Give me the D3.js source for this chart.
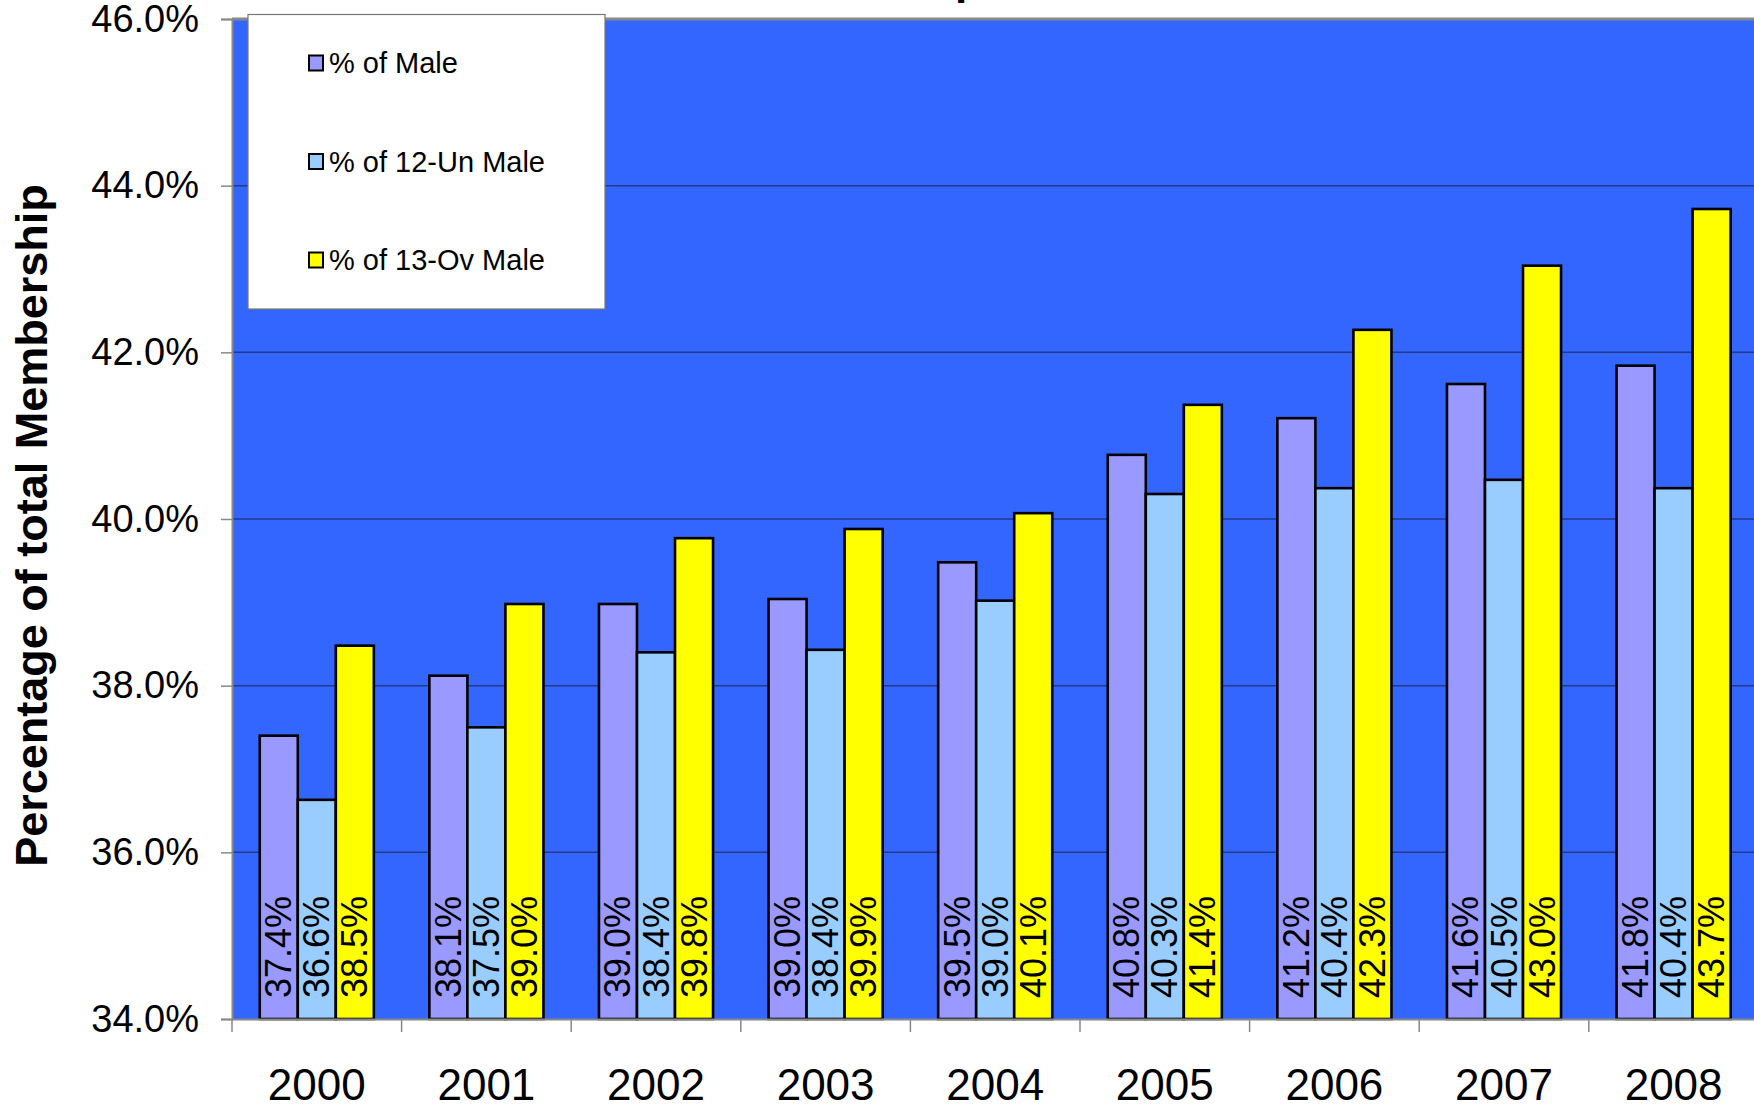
<!DOCTYPE html>
<html>
<head>
<meta charset="utf-8">
<script src="https://cdn.jsdelivr.net/npm/d3@7"></script>
<style>
  html, body { margin: 0; padding: 0; background: #fff; }
  svg { display: block; }
  text { font-family: "Liberation Sans", Arial, sans-serif; }
</style>
</head>
<body>
<svg id="chart" width="1754" height="1110"></svg>
<script>
const years = ["2000","2001","2002","2003","2004","2005","2006","2007","2008"];
const seriesNames = ["% of Male", "% of 12-Un Male", "% of 13-Ov Male"];
const pctMale    = [37.40, 38.12, 38.98, 39.04, 39.48, 40.77, 41.21, 41.62, 41.84];
const pct12Un    = [36.63, 37.50, 38.40, 38.43, 39.02, 40.30, 40.37, 40.47, 40.37];
const pct13Ov    = [38.48, 38.98, 39.77, 39.88, 40.07, 41.37, 42.27, 43.04, 43.72];
const yTicks     = [34, 36, 38, 40, 42, 44, 46];
const colors     = ["#9999FF", "#99CCFF", "#FFFF00"];
const chartTitle = "Male Membership";
const yTitle     = "Percentage of total Membership";

const seriesValues = [pctMale, pct12Un, pct13Ov];
const rows = years.map((yr, i) => ({ year: yr, values: seriesValues.map((s, k) => ({ key: seriesNames[k], k, v: s[i] })) }));

const svg = d3.select("#chart");
const pLeft = 232, pRight = 1758.4, pTop = 19, pBottom = 1019;

const x0 = d3.scaleBand().domain(years).range([pLeft, pRight]).paddingInner(0).paddingOuter(0);
const x1 = d3.scaleBand().domain(seriesNames).range([0, x0.bandwidth()]).paddingInner(0).paddingOuter(0.73);
const y = d3.scaleLinear().domain([34, 46]).range([pBottom, pTop]);

// plot background
svg.append("rect").attr("x", pLeft).attr("y", pTop).attr("width", pRight - pLeft).attr("height", pBottom - pTop).attr("fill", "#3366FF");

// gridlines
svg.append("g").selectAll("line").data(yTicks.filter(t => t > 34 && t < 46)).join("line")
  .attr("x1", pLeft).attr("x2", pRight).attr("y1", d => y(d)).attr("y2", d => y(d))
  .attr("stroke", "#24398a").attr("stroke-width", 1.5);

// top border
svg.append("line").attr("x1", pLeft).attr("x2", pRight).attr("y1", pTop).attr("y2", pTop).attr("stroke", "#888").attr("stroke-width", 3);

// title (mostly above the visible area, as in the reference)
svg.append("text").attr("x", 982).attr("y", -6).attr("text-anchor", "end")
  .attr("font-size", 44).attr("font-weight", "bold").attr("fill", "#000").text(chartTitle);

// bars
const groups = svg.append("g").selectAll("g").data(rows).join("g")
  .attr("transform", d => `translate(${x0(d.year)},0)`);
groups.selectAll("rect").data(d => d.values).join("rect")
  .attr("x", d => x1(d.key)).attr("width", x1.bandwidth())
  .attr("y", d => y(d.v)).attr("height", d => y(34) - y(d.v))
  .attr("fill", d => colors[d.k]).attr("stroke", "#000").attr("stroke-width", 2.6);
groups.selectAll("text").data(d => d.values).join("text")
  .attr("transform", d => `translate(${x1(d.key) + x1.bandwidth() / 2},${y(34) - 21}) rotate(-90)`)
  .attr("text-anchor", "start").attr("dominant-baseline", "central")
  .attr("font-size", 36).attr("fill", "#000")
  .text(d => d.v.toFixed(1) + "%");

// y axis
const yAxis = d3.axisLeft(y).tickValues(yTicks).tickSize(11).tickPadding(22).tickFormat(d => d.toFixed(1) + "%");
const gy = svg.append("g").attr("transform", `translate(${pLeft},0)`).call(yAxis);
gy.select(".domain").attr("stroke", "#888").attr("stroke-width", 2);
gy.selectAll(".tick line").attr("stroke", "#888").attr("stroke-width", 1.5);
gy.selectAll(".tick text").attr("font-size", 38).attr("fill", "#000").attr("font-family", "'Liberation Sans', Arial, sans-serif");

// x axis
const xAxis = d3.axisBottom(x0).tickSize(0).tickPadding(0);
const gx = svg.append("g").attr("transform", `translate(0,${pBottom})`).call(xAxis);
gx.select(".domain").attr("stroke", "#888").attr("stroke-width", 2);
gx.selectAll(".tick text").attr("font-size", 44).attr("fill", "#000")
  .attr("font-family", "'Liberation Sans', Arial, sans-serif").attr("dy", null).attr("y", 81);
// category boundary ticks
svg.append("g").selectAll("line").data(years).join("line")
  .attr("x1", d => x0(d)).attr("x2", d => x0(d)).attr("y1", pBottom).attr("y2", pBottom + 13)
  .attr("stroke", "#888").attr("stroke-width", 1.5);

// y title
svg.append("text").attr("transform", `translate(47,${(177 + 870) / 2 + 2}) rotate(-90)`)
  .attr("text-anchor", "middle").attr("font-size", 45).attr("font-weight", "bold").attr("fill", "#000").text(yTitle);

// legend
const lg = svg.append("g");
lg.append("rect").attr("x", 248).attr("y", 14.5).attr("width", 357).attr("height", 294.5)
  .attr("fill", "#fff").attr("stroke", "#777").attr("stroke-width", 1.2);
const legendY = d3.scalePoint().domain(seriesNames).range([63, 260]);
const items = lg.selectAll("g").data(seriesNames).join("g").attr("transform", d => `translate(309,${legendY(d)})`);
items.append("rect").attr("x", 0).attr("y", -7.5).attr("width", 14).attr("height", 15)
  .attr("fill", (d, i) => colors[i]).attr("stroke", "#000").attr("stroke-width", 2);
items.append("text").attr("x", 20).attr("y", 0).attr("dy", "0.36em").attr("font-size", 29).attr("fill", "#000").text(d => d);
</script>
</body>
</html>
